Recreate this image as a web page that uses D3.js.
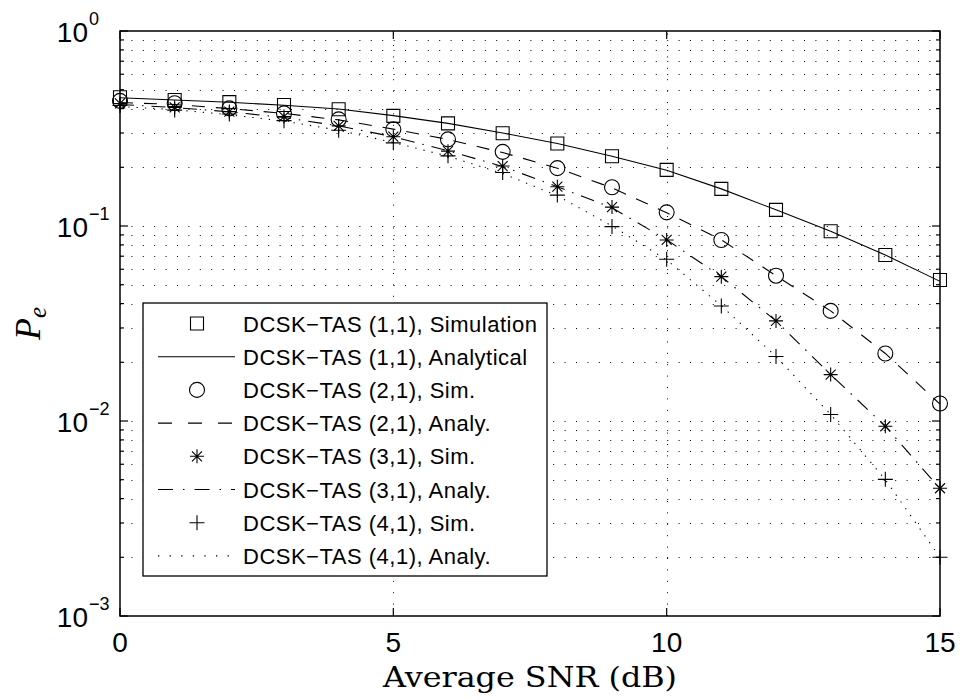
<!DOCTYPE html>
<html>
<head>
<meta charset="utf-8">
<script src="https://cdn.jsdelivr.net/npm/d3@7/dist/d3.min.js"></script>
<style>
  body { margin: 0; background: #fff; }
  text { font-family: "Liberation Sans", Arial, sans-serif; fill: #000; }
</style>
</head>
<body>
<script>
// SNR points (dB)
let snr = [0, 1, 2, 3, 4, 5, 6, 7, 8, 9, 10, 11, 12, 13, 14, 15];

// simulated error probabilities
let sim11 = [0.457, 0.443, 0.432, 0.417, 0.397, 0.367, 0.336, 0.299, 0.265, 0.228, 0.194, 0.155, 0.121, 0.094, 0.071, 0.0529];
let sim21 = [0.438, 0.426, 0.401, 0.378, 0.352, 0.313, 0.278, 0.240, 0.198, 0.158, 0.1175, 0.0848, 0.0556, 0.0367, 0.0222, 0.0123];
let sim31 = [0.425, 0.406, 0.386, 0.364, 0.326, 0.287, 0.242, 0.203, 0.159, 0.125, 0.0848, 0.055, 0.0326, 0.0173, 0.0094, 0.00452];
let sim41 = [0.415, 0.393, 0.375, 0.347, 0.310, 0.267, 0.229, 0.188, 0.144, 0.0993, 0.0675, 0.0389, 0.0214, 0.0108, 0.00502, 0.0020];

// analytical curves
let ana11 = [0.455, 0.443, 0.431, 0.416, 0.398, 0.368, 0.336, 0.300, 0.265, 0.228, 0.193, 0.155, 0.121, 0.094, 0.071, 0.052];
let ana21 = [0.430, 0.420, 0.400, 0.378, 0.350, 0.314, 0.278, 0.238, 0.198, 0.157, 0.117, 0.085, 0.0556, 0.0367, 0.0222, 0.0122];
let ana31 = [0.420, 0.405, 0.385, 0.360, 0.326, 0.287, 0.243, 0.202, 0.159, 0.124, 0.085, 0.055, 0.0326, 0.0173, 0.0094, 0.0045];
let ana41 = [0.410, 0.395, 0.372, 0.345, 0.310, 0.268, 0.228, 0.186, 0.143, 0.100, 0.067, 0.039, 0.0214, 0.0108, 0.0050, 0.0020];

let legendLabels = [
  "DCSK\u2212TAS (1,1), Simulation",
  "DCSK\u2212TAS (1,1), Analytical",
  "DCSK\u2212TAS (2,1), Sim.",
  "DCSK\u2212TAS (2,1), Analy.",
  "DCSK\u2212TAS (3,1), Sim.",
  "DCSK\u2212TAS (3,1), Analy.",
  "DCSK\u2212TAS (4,1), Sim.",
  "DCSK\u2212TAS (4,1), Analy."
];

let xTicks = [0, 5, 10, 15];
let yDecades = [-3, -2, -1, 0];

// dimensions
let width = 960;
let height = 700;
let plotLeft = 120, plotRight = 940, plotTop = 31, plotBottom = 616;

let x = d3.scaleLinear().domain([0, 15]).range([plotLeft, plotRight]);
let y = d3.scaleLog().domain([1e-3, 1]).range([plotBottom, plotTop]);

let svg = d3.select("body").append("svg")
  .attr("width", width)
  .attr("height", height);

// grid
let grid = svg.append("g")
  .attr("stroke", "#000")
  .attr("stroke-width", 1)
  .attr("stroke-dasharray", "1,10.4");

grid.selectAll(".hgrid")
  .data(y.ticks().filter(d => d > 1e-3 && d < 1))
  .enter().append("line")
  .attr("x1", plotLeft).attr("x2", plotRight)
  .attr("y1", d => Math.round(y(d)) + 0.5)
  .attr("y2", d => Math.round(y(d)) + 0.5);

grid.selectAll(".vgrid")
  .data(xTicks.slice(1, -1))
  .enter().append("line")
  .attr("x1", d => Math.round(x(d)) + 0.5)
  .attr("x2", d => Math.round(x(d)) + 0.5)
  .attr("y1", plotBottom).attr("y2", plotTop);

// curves
let line = d3.line()
  .x((d, i) => x(snr[i]))
  .y(d => y(d));

let curves = [
  { data: ana11, dash: null },
  { data: ana21, dash: "13,11" },
  { data: ana31, dash: "14,8,1.5,8" },
  { data: ana41, dash: "1.3,7" }
];

svg.selectAll(".curve")
  .data(curves)
  .enter().append("path")
  .attr("class", "curve")
  .attr("d", d => line(d.data))
  .attr("fill", "none")
  .attr("stroke", "#000")
  .attr("stroke-width", 1.1)
  .attr("stroke-dasharray", d => d.dash);

// marker shapes
function markerPath(type, cx, cy) {
  let p = d3.path();
  if (type === "square") {
    p.rect(cx - 6.5, cy - 6.5, 13, 13);
  } else if (type === "circle") {
    p.moveTo(cx + 7.5, cy);
    p.arc(cx, cy, 7.5, 0, 2 * Math.PI);
  } else if (type === "star") {
    let r = 7, q = 5;
    p.moveTo(cx - r, cy); p.lineTo(cx + r, cy);
    p.moveTo(cx, cy - r); p.lineTo(cx, cy + r);
    p.moveTo(cx - q, cy - q); p.lineTo(cx + q, cy + q);
    p.moveTo(cx - q, cy + q); p.lineTo(cx + q, cy - q);
  } else if (type === "plus") {
    let r = 7.5;
    p.moveTo(cx - r, cy); p.lineTo(cx + r, cy);
    p.moveTo(cx, cy - r); p.lineTo(cx, cy + r);
  }
  return p.toString();
}

let markerSets = [
  { data: sim11, type: "square" },
  { data: sim21, type: "circle" },
  { data: sim31, type: "star" },
  { data: sim41, type: "plus" }
];

markerSets.forEach(function(set) {
  svg.append("g").selectAll("path")
    .data(set.data)
    .enter().append("path")
    .attr("d", (d, i) => markerPath(set.type, x(snr[i]), y(d)))
    .attr("fill", "none")
    .attr("stroke", "#000")
    .attr("stroke-width", 1.1);
});

// axes frame and ticks
let frame = svg.append("g").attr("stroke", "#000");

frame.append("rect")
  .attr("x", plotLeft).attr("y", plotTop)
  .attr("width", plotRight - plotLeft).attr("height", plotBottom - plotTop)
  .attr("fill", "none")
  .attr("stroke-width", 1.5);

xTicks.forEach(function(t) {
  frame.append("line").attr("x1", x(t)).attr("x2", x(t)).attr("y1", plotBottom).attr("y2", plotBottom - 8).attr("stroke-width", 1.2);
  frame.append("line").attr("x1", x(t)).attr("x2", x(t)).attr("y1", plotTop).attr("y2", plotTop + 8).attr("stroke-width", 1.2);
});

y.ticks().forEach(function(t) {
  let major = Math.abs(Math.log10(t) - Math.round(Math.log10(t))) < 1e-6;
  let len = major ? 8 : 4;
  frame.append("line").attr("x1", plotLeft).attr("x2", plotLeft + len).attr("y1", y(t)).attr("y2", y(t)).attr("stroke-width", 1.2);
  frame.append("line").attr("x1", plotRight).attr("x2", plotRight - len).attr("y1", y(t)).attr("y2", y(t)).attr("stroke-width", 1.2);
});

// tick labels
svg.selectAll(".xlabel")
  .data(xTicks)
  .enter().append("text")
  .attr("x", d => x(d))
  .attr("y", plotBottom + 36)
  .attr("text-anchor", "middle")
  .style("font-size", "28px")
  .text(d => d);

yDecades.forEach(function(k) {
  let py = y(Math.pow(10, k));
  svg.append("text")
    .attr("x", 88)
    .attr("y", py + 11)
    .attr("text-anchor", "end")
    .style("font-size", "28px")
    .text("10");
  svg.append("text")
    .attr("x", 89)
    .attr("y", py - 6)
    .style("font-size", "18px")
    .text(k === 0 ? "0" : "\u2212" + (-k));
});

// axis titles
svg.append("text")
  .attr("x", 530)
  .attr("y", 687)
  .attr("text-anchor", "middle")
  .attr("textLength", 294)
  .attr("lengthAdjust", "spacingAndGlyphs")
  .style("font-family", "'DejaVu Serif', serif")
  .style("font-size", "28px")
  .text("Average SNR (dB)");

let ylab = svg.append("text")
  .attr("transform", "translate(40," + ((plotTop + plotBottom) / 2) + ") rotate(-90)")
  .attr("text-anchor", "middle")
  .style("font-family", "'Liberation Serif', serif")
  .style("font-style", "italic")
  .style("font-size", "36px");
ylab.append("tspan").text("P");
ylab.append("tspan").attr("dy", 6).style("font-size", "25px").text("e");

// legend
let lg = svg.append("g");
lg.append("rect")
  .attr("x", 143).attr("y", 303)
  .attr("width", 404).attr("height", 273)
  .attr("fill", "#fff")
  .attr("stroke", "#000")
  .attr("stroke-width", 1.3);

let legendItems = [
  { marker: "square" }, { dash: "none" },
  { marker: "circle" }, { dash: "14,16" },
  { marker: "star" }, { dash: "15,10,1.5,10" },
  { marker: "plus" }, { dash: "1.3,10.3" }
];

legendItems.forEach(function(item, i) {
  let ry = 323.5 + i * 33.2;
  if (item.marker) {
    lg.append("path")
      .attr("d", markerPath(item.marker, 197, ry))
      .attr("fill", "none")
      .attr("stroke", "#000")
      .attr("stroke-width", 1.1);
  } else {
    lg.append("line")
      .attr("x1", 158).attr("x2", 235)
      .attr("y1", ry).attr("y2", ry)
      .attr("stroke", "#000")
      .attr("stroke-width", 1.1)
      .attr("stroke-dasharray", item.dash === "none" ? null : item.dash);
  }
  lg.append("text")
    .attr("x", 243)
    .attr("y", ry + 8)
    .style("font-size", "22px")
    .style("letter-spacing", "0.5px")
    .text(legendLabels[i]);
});
</script>
</body>
</html>
